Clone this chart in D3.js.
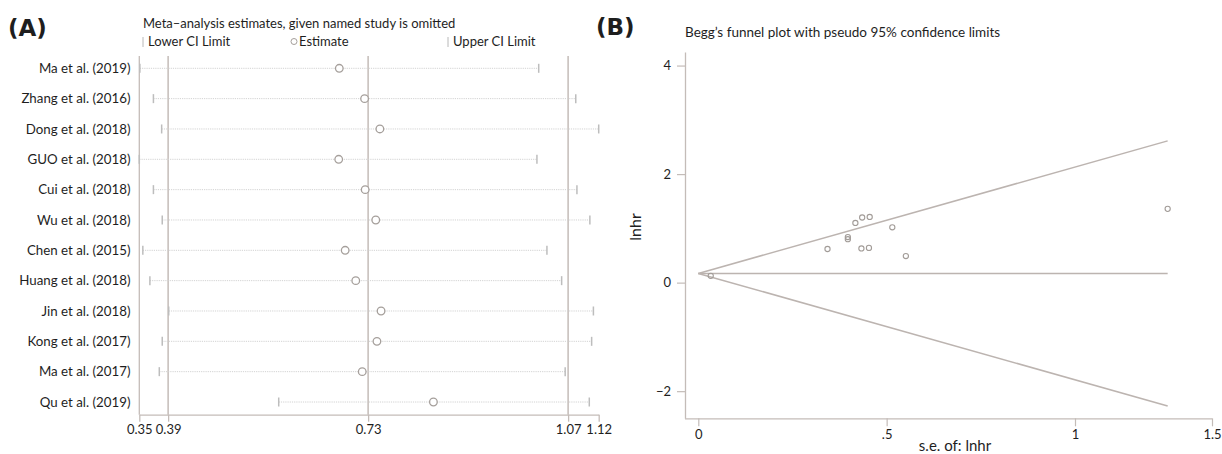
<!DOCTYPE html>
<html>
<head>
<meta charset="utf-8">
<script src="https://cdn.jsdelivr.net/npm/d3@7"></script>
<style>
  body { margin: 0; background: #fff; }
  text { font-family: Lato, "Open Sans", sans-serif; fill: #1e1e1e; }
</style>
</head>
<body>
<svg id="chart" width="1222" height="454"></svg>
<script>
// ---------------------------------------------------------------
//    DATA
// ---------------------------------------------------------------
// (A) leave-one-out sensitivity analysis
const studies = ["Ma et al. (2019)", "Zhang et al. (2016)", "Dong et al. (2018)", "GUO et al. (2018)",
    "Cui et al. (2018)", "Wu et al. (2018)", "Chen et al. (2015)", "Huang et al. (2018)",
    "Jin et al. (2018)", "Kong et al. (2017)", "Ma et al. (2017)", "Qu et al. (2019)"];
const lowerCI = [0.342, 0.365, 0.379, 0.341, 0.365, 0.380, 0.347, 0.359, 0.391, 0.380, 0.375, 0.578];
const estimate = [0.681, 0.724, 0.750, 0.680, 0.725, 0.743, 0.691, 0.709, 0.752, 0.745, 0.720, 0.841];
const upperCI = [1.020, 1.083, 1.122, 1.017, 1.085, 1.107, 1.034, 1.059, 1.113, 1.110, 1.065, 1.106];
const refLines = [0.39, 0.73, 1.07];
const xTickValsA = [0.341, 0.39, 0.73, 1.07, 1.122];
const xTickLabelsA = ["0.35", "0.39", "0.73", "1.07", "1.12"];

// (B) Begg's funnel plot
const seLnhr = [0.033, 0.343, 0.397, 0.397, 0.417, 0.435, 0.455, 0.433, 0.453, 0.515, 0.551, 1.246];
const lnhr = [0.125, 0.62, 0.84, 0.80, 1.10, 1.20, 1.21, 0.63, 0.64, 1.02, 0.49, 1.36];
const pooled = 0.17;
const yTicksB = [-2, 0, 2, 4];
const xTicksB = [0, 0.5, 1, 1.5];
const xTickLabelsB = ["0", ".5", "1", "1.5"];

const lineCol = "#c4bcb8";
const markCol = "#a59f9b";
const svg = d3.select("#chart");

// ---------------------------------------------------------------
//    PANEL A
// ---------------------------------------------------------------
const gA = svg.append("g");

gA.append("text").attr("x", 8).attr("y", 36)
    .style("font-family", "'DejaVu Sans', sans-serif")
    .style("font-weight", "bold").style("font-size", "23px")
    .text("(A)");

gA.append("text").attr("x", 143).attr("y", 28).style("font-size", "13px")
    .text("Meta\u2013analysis estimates, given named study is omitted");

// legend
const leg = gA.append("g").style("font-size", "13px");
[[143, "Lower CI Limit"], [448, "Upper CI Limit"]].forEach(([lx, t]) => {
    leg.append("line").attr("x1", lx).attr("x2", lx).attr("y1", 37).attr("y2", 47)
        .attr("stroke", "#b8b8b8").attr("stroke-width", 1);
    leg.append("text").attr("x", lx + 5).attr("y", 46).text(t);
});
leg.append("circle").attr("cx", 294).attr("cy", 41.5).attr("r", 3)
    .attr("fill", "none").attr("stroke", markCol);
leg.append("text").attr("x", 299).attr("y", 46).text("Estimate");

const xA = d3.scaleLinear().domain([d3.min(lowerCI), d3.max(upperCI)]).range([139.3, 598.7]);
const yA = d3.scalePoint().domain(studies).range([68.3, 402]);
const axisYA = 414.7;
const topA = 56;

// y axis line
gA.append("line").attr("x1", xA.range()[0]).attr("x2", xA.range()[0])
    .attr("y1", topA).attr("y2", axisYA).attr("stroke", lineCol).attr("stroke-width", 1.3);

// reference lines
gA.selectAll(".ref").data(refLines).join("line")
    .attr("x1", d => xA(d)).attr("x2", d => xA(d))
    .attr("y1", topA).attr("y2", axisYA)
    .attr("stroke", lineCol).attr("stroke-width", 1.5);

// study labels
gA.selectAll(".lab").data(studies).join("text")
    .attr("x", 130.5).attr("y", d => yA(d)).attr("dy", "0.35em")
    .attr("text-anchor", "end").style("font-size", "13.3px")
    .text(d => d);

const rows = studies.map((s, i) => ({ s, lo: lowerCI[i], est: estimate[i], hi: upperCI[i] }));

// dotted CI lines
gA.selectAll(".ci").data(rows).join("line")
    .attr("x1", d => xA(d.lo)).attr("x2", d => xA(d.hi))
    .attr("y1", d => yA(d.s)).attr("y2", d => yA(d.s))
    .attr("stroke", "#d2d2d2").attr("stroke-width", 1).attr("stroke-dasharray", "1.2,1");

// CI end ticks
["lo", "hi"].forEach(k => {
    gA.selectAll(".t" + k).data(rows).join("line")
        .attr("x1", d => xA(d[k])).attr("x2", d => xA(d[k]))
        .attr("y1", d => yA(d.s) - 4.5).attr("y2", d => yA(d.s) + 4.5)
        .attr("stroke", "#bdbdbd").attr("stroke-width", 1.5);
});

// estimates
gA.selectAll(".est").data(rows).join("circle")
    .attr("cx", d => xA(d.est)).attr("cy", d => yA(d.s)).attr("r", 3.8)
    .attr("fill", "#fff").attr("stroke", markCol).attr("stroke-width", 1.3);

// x axis
const axA = gA.append("g").attr("transform", `translate(0,${axisYA})`)
    .call(d3.axisBottom(xA).tickValues(xTickValsA)
        .tickFormat((d, i) => xTickLabelsA[i]).tickSize(7).tickSizeOuter(0).tickPadding(3));
axA.select(".domain").attr("stroke", lineCol).attr("stroke-width", 1.3);
axA.selectAll(".tick line").attr("stroke", lineCol).attr("stroke-width", 1.3);
axA.selectAll(".tick text").style("font-size", "13px").style("font-family", "Lato, sans-serif").attr("fill", "#1e1e1e");

// ---------------------------------------------------------------
//    PANEL B
// ---------------------------------------------------------------
const gB = svg.append("g");

gB.append("text").attr("x", 596).attr("y", 35)
    .style("font-family", "'DejaVu Sans', sans-serif")
    .style("font-weight", "bold").style("font-size", "23px")
    .text("(B)");

gB.append("text").attr("x", 685).attr("y", 37).style("font-size", "13.5px")
    .text("Begg\u2019s funnel plot with pseudo 95% confidence limits");

const xB = d3.scaleLinear().domain([0, 1]).range([698.3, 1075]);
const xAxisB = d3.scaleLinear().domain([0, 1, 1.5]).range([xB(0), xB(1), 1212]);
const yB = d3.scaleLinear().domain([-2.5, 4.25]).range([418.3, 52]);
const leftB = 685;

// y axis
const ayB = gB.append("g").attr("transform", `translate(${leftB},0)`)
    .call(d3.axisLeft(yB).tickValues(yTicksB).tickFormat(d3.format("d"))
        .tickSize(8).tickSizeOuter(0).tickPadding(6));
ayB.select(".domain").attr("stroke", lineCol).attr("stroke-width", 1.3);
ayB.selectAll(".tick line").attr("stroke", lineCol).attr("stroke-width", 1.2);
ayB.selectAll(".tick text").style("font-size", "13px").style("font-family", "Lato, sans-serif").attr("fill", "#1e1e1e");

// x axis
const axB = gB.append("g").attr("transform", `translate(0,${yB.range()[0]})`)
    .call(d3.axisBottom(xAxisB).tickValues(xTicksB)
        .tickFormat((d, i) => xTickLabelsB[i]).tickSize(8).tickSizeOuter(0).tickPadding(3));
axB.select(".domain").attr("d", `M${leftB},0.5H${xAxisB(1.5)}`)
    .attr("stroke", lineCol).attr("stroke-width", 1.3);
axB.selectAll(".tick line").attr("stroke", lineCol).attr("stroke-width", 1.2);
axB.selectAll(".tick text").style("font-size", "13px").style("font-family", "Lato, sans-serif").attr("fill", "#1e1e1e");

// axis titles
gB.append("text").attr("transform", `translate(641,227) rotate(-90)`)
    .attr("text-anchor", "middle").style("font-size", "16px").text("lnhr");
gB.append("text").attr("x", 955).attr("y", 451)
    .attr("text-anchor", "middle").style("font-size", "15px").text("s.e. of: lnhr");

// pseudo 95% confidence limits
const seMax = d3.max(seLnhr);
const funnel = [
    [[0, pooled], [seMax, pooled + 1.96 * seMax]],
    [[0, pooled], [seMax, pooled]],
    [[0, pooled], [seMax, pooled - 1.96 * seMax]]
];
const line = d3.line().x(d => xB(d[0])).y(d => yB(d[1]));
gB.selectAll(".funnel").data(funnel).join("path")
    .attr("d", line).attr("fill", "none")
    .attr("stroke", "#bcb4b0").attr("stroke-width", 1.5);

// studies
gB.selectAll(".pt").data(seLnhr.map((s, i) => [s, lnhr[i]])).join("circle")
    .attr("cx", d => xB(d[0])).attr("cy", d => yB(d[1])).attr("r", 2.6)
    .attr("fill", "none").attr("stroke", "#a29c98").attr("stroke-width", 1.1);
</script>
</body>
</html>
